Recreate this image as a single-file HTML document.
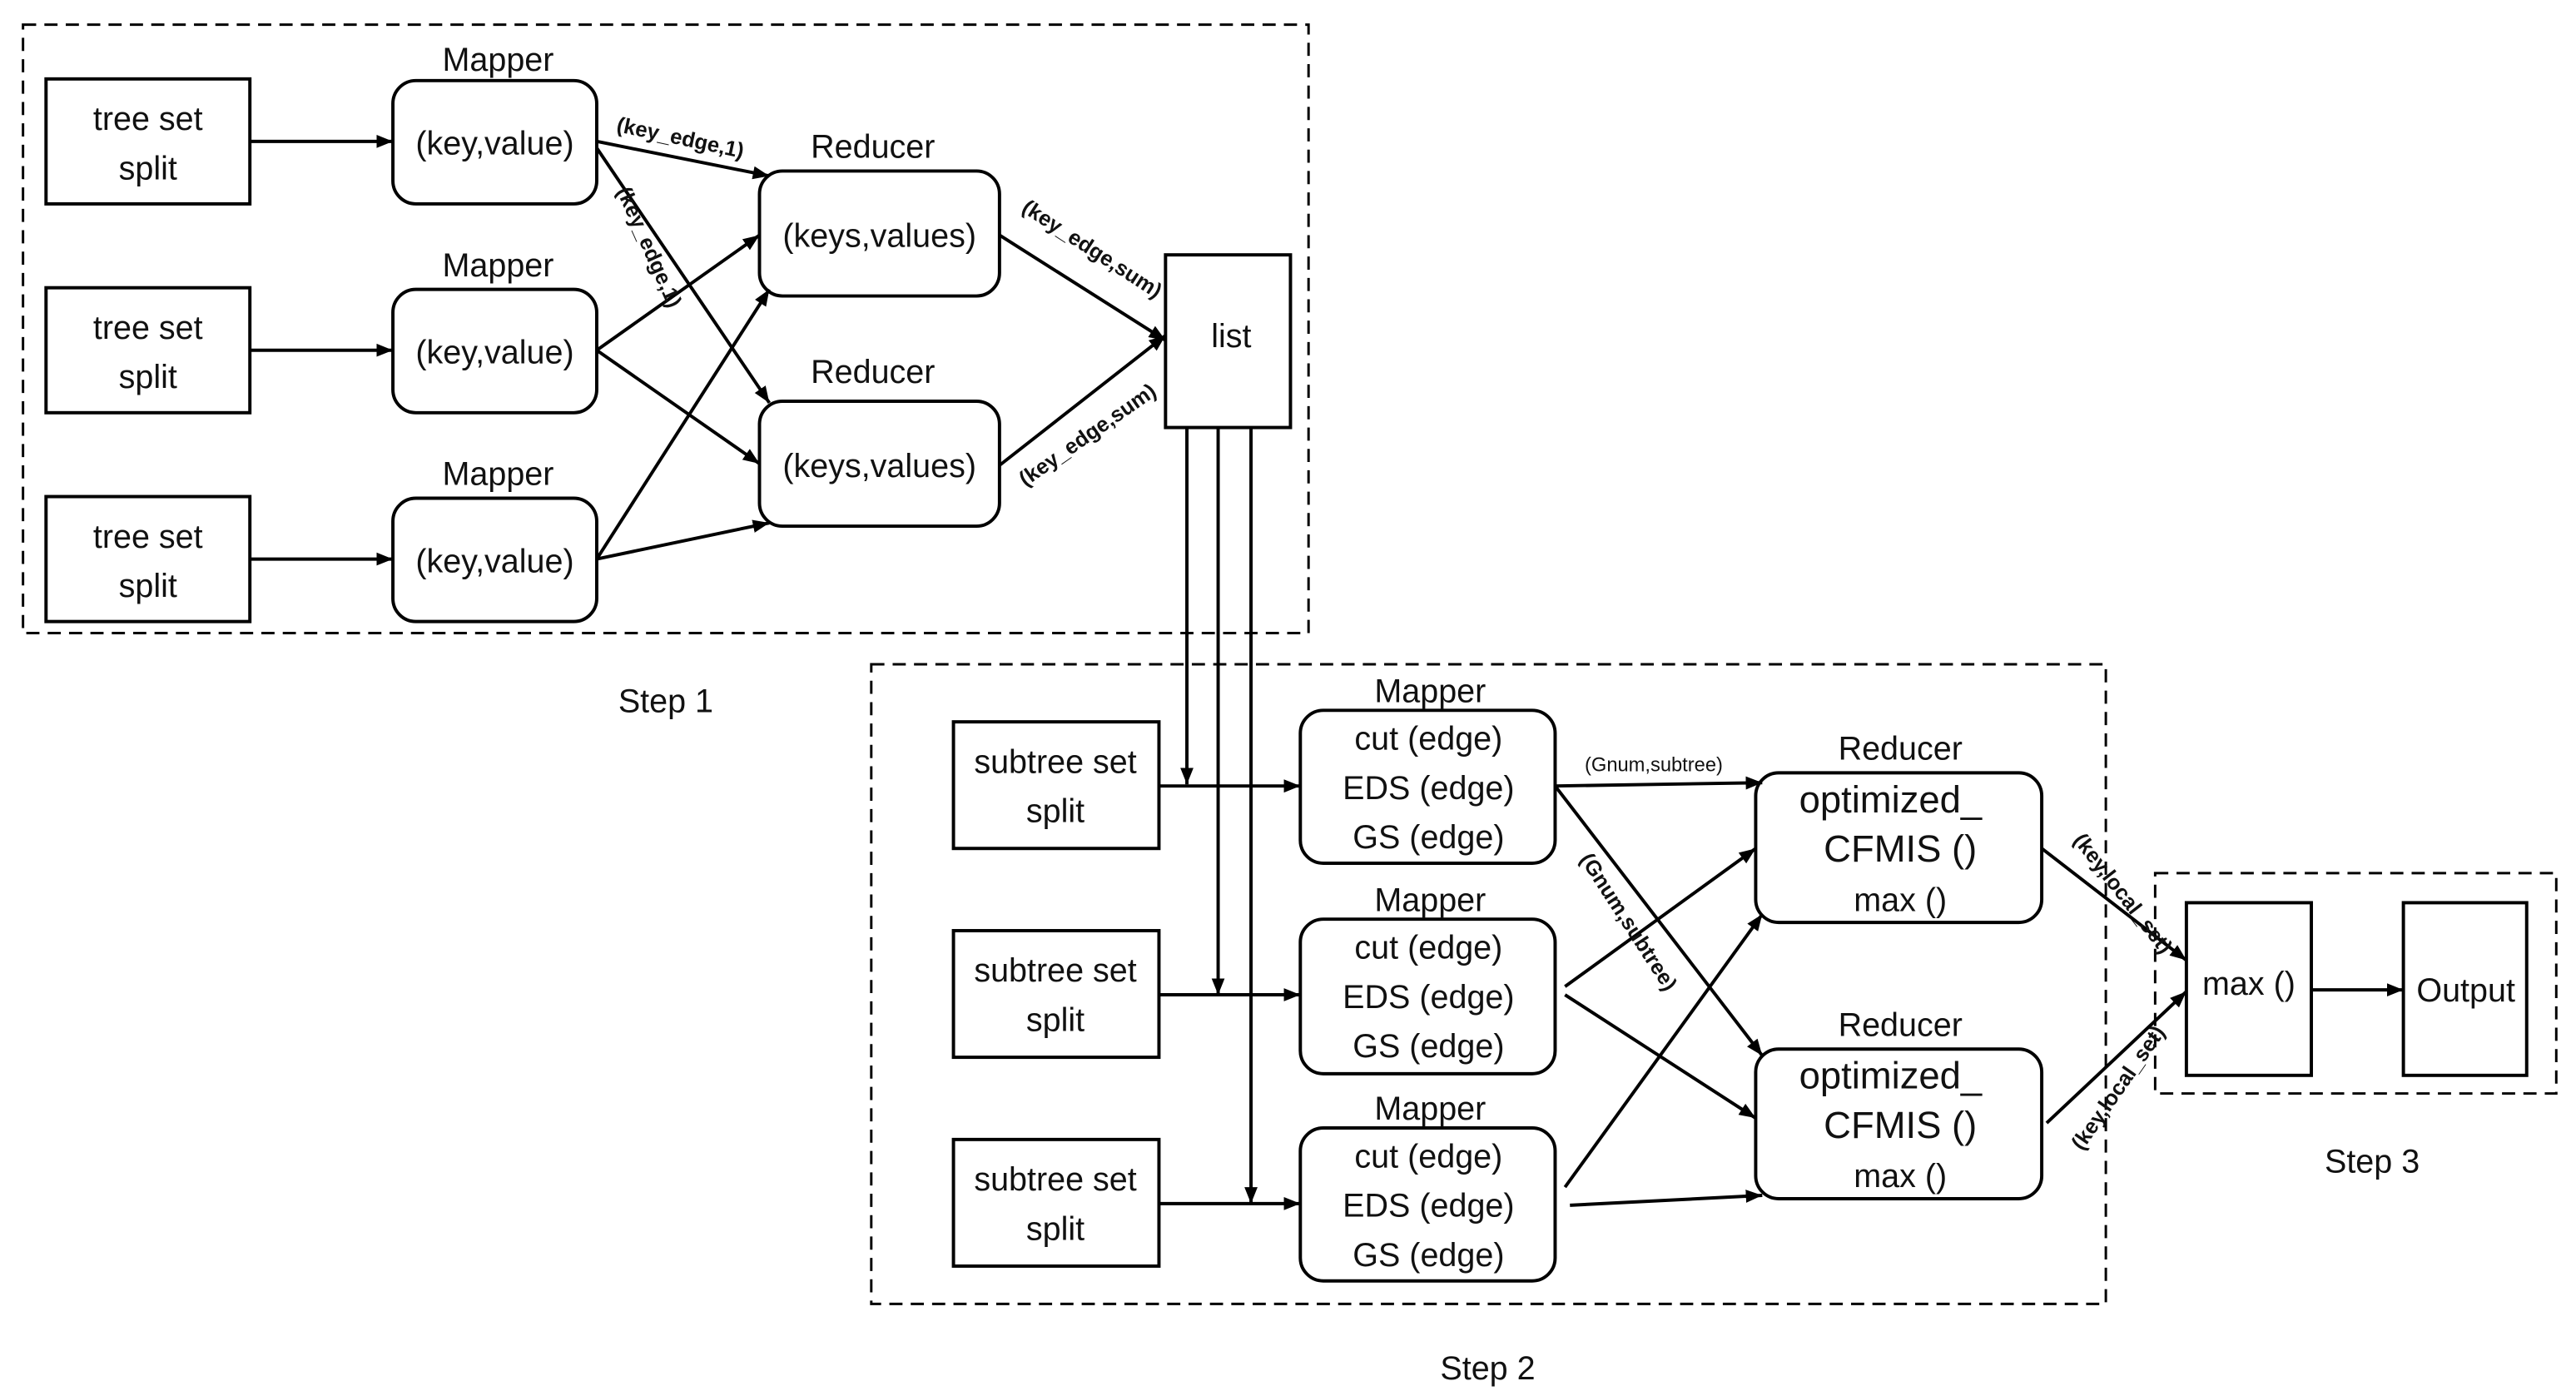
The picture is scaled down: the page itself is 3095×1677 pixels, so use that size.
<!DOCTYPE html>
<html><head><meta charset="utf-8"><style>
html,body{margin:0;padding:0;background:#fff}
svg{display:block}
text{font-family:"Liberation Sans Narrow","Liberation Sans",sans-serif;fill:#111;text-anchor:middle}
.b{font-size:20px}
.s{font-size:13px;font-weight:bold}
</style></head><body>
<svg width="3095" height="1677" viewBox="0 0 1567 849" preserveAspectRatio="none" xmlns="http://www.w3.org/2000/svg">
<defs>
<marker id="m" viewBox="0 0 10 10" refX="10" refY="5" markerWidth="10" markerHeight="10" orient="auto" markerUnits="userSpaceOnUse"><path d="M0,1L10,5L0,9z" fill="#000"/></marker>
</defs>
<g fill="none" stroke="#000" stroke-width="1.5" stroke-dasharray="8,5">
<rect x="14" y="15" width="782" height="370"/>
<rect x="530" y="404" width="751" height="389"/>
<rect x="1311" y="531" width="244" height="134"/>
</g>
<g fill="#fff" stroke="#000" stroke-width="2">
<rect x="28" y="48" width="124" height="76"/>
<rect x="28" y="175" width="124" height="76"/>
<rect x="28" y="302" width="124" height="76"/>
<rect x="239" y="49" width="124" height="75" rx="14"/>
<rect x="239" y="176" width="124" height="75" rx="14"/>
<rect x="239" y="303" width="124" height="75" rx="14"/>
<rect x="462" y="104" width="146" height="76" rx="14"/>
<rect x="462" y="244" width="146" height="76" rx="14"/>
<rect x="709" y="155" width="76" height="105"/>
<rect x="580" y="439" width="125" height="77"/>
<rect x="580" y="566" width="125" height="77"/>
<rect x="580" y="693" width="125" height="77"/>
<rect x="791" y="432" width="155" height="93" rx="14"/>
<rect x="791" y="559" width="155" height="94" rx="14"/>
<rect x="791" y="686" width="155" height="93" rx="14"/>
<rect x="1068" y="470" width="174" height="91" rx="14"/>
<rect x="1068" y="638" width="174" height="91" rx="14"/>
<rect x="1330" y="549" width="76" height="105"/>
<rect x="1462" y="549" width="75" height="105"/>
</g>
<g stroke="#000" stroke-width="2" fill="none" marker-end="url(#m)">
<line x1="152" y1="86" x2="239" y2="86"/>
<line x1="152" y1="213" x2="239" y2="213"/>
<line x1="152" y1="340" x2="239" y2="340"/>
<line x1="363" y1="86" x2="468" y2="107"/>
<line x1="363" y1="90" x2="468" y2="245"/>
<line x1="363" y1="213" x2="462" y2="143"/>
<line x1="363" y1="213" x2="462" y2="282"/>
<line x1="363" y1="340" x2="468" y2="176"/>
<line x1="363" y1="340" x2="468" y2="318"/>
<line x1="608" y1="143" x2="709" y2="207"/>
<line x1="608" y1="283" x2="709" y2="204"/>
<line x1="722" y1="260" x2="722" y2="477"/>
<line x1="741" y1="260" x2="741" y2="605"/>
<line x1="761" y1="260" x2="761" y2="732"/>
<line x1="705" y1="478" x2="791" y2="478"/>
<line x1="705" y1="605" x2="791" y2="605"/>
<line x1="705" y1="732" x2="791" y2="732"/>
<line x1="946" y1="478" x2="1072" y2="476"/>
<line x1="946" y1="478" x2="1072" y2="642"/>
<line x1="952" y1="600" x2="1068" y2="516"/>
<line x1="952" y1="605" x2="1068" y2="680"/>
<line x1="952" y1="722" x2="1072" y2="556"/>
<line x1="955" y1="733" x2="1072" y2="727"/>
<line x1="1242" y1="516" x2="1330" y2="584"/>
<line x1="1245" y1="683" x2="1330" y2="603"/>
<line x1="1406" y1="602" x2="1462" y2="602"/>
</g>
<g class="b">
<text x="90" y="79">tree set</text><text x="90" y="109">split</text>
<text x="90" y="206">tree set</text><text x="90" y="236">split</text>
<text x="90" y="333">tree set</text><text x="90" y="363">split</text>
<text x="303" y="43">Mapper</text><text x="303" y="168">Mapper</text><text x="303" y="295">Mapper</text>
<text x="301" y="94">(key,value)</text><text x="301" y="221">(key,value)</text><text x="301" y="348">(key,value)</text>
<text x="531" y="96">Reducer</text><text x="531" y="233">Reducer</text>
<text x="535" y="150">(keys,values)</text><text x="535" y="290">(keys,values)</text>
<text x="749" y="211">list</text>
<text x="405" y="433">Step 1</text>
<text x="905" y="839">Step 2</text>
<text x="1443" y="713">Step 3</text>
<text x="642" y="470">subtree set</text><text x="642" y="500">split</text>
<text x="642" y="597">subtree set</text><text x="642" y="627">split</text>
<text x="642" y="724">subtree set</text><text x="642" y="754">split</text>
<text x="870" y="427">Mapper</text><text x="870" y="554">Mapper</text><text x="870" y="681">Mapper</text>
<text x="869" y="456">cut (edge)</text><text x="869" y="486">EDS (edge)</text><text x="869" y="516">GS (edge)</text>
<text x="869" y="583">cut (edge)</text><text x="869" y="613">EDS (edge)</text><text x="869" y="643">GS (edge)</text>
<text x="869" y="710">cut (edge)</text><text x="869" y="740">EDS (edge)</text><text x="869" y="770">GS (edge)</text>
<text x="1156" y="462">Reducer</text><text x="1156" y="630">Reducer</text>
<text x="1150" y="494" font-size="23">optimized_</text><text x="1156" y="524" font-size="23">CFMIS ()</text><text x="1156" y="554">max ()</text>
<text x="1150" y="662" font-size="23">optimized_</text><text x="1156" y="692" font-size="23">CFMIS ()</text><text x="1156" y="722">max ()</text>
<text x="1368" y="605">max ()</text>
<text x="1500" y="609">Output</text>
</g>
<g class="s">
<text transform="translate(413,88) rotate(12)">(key_edge,1)</text>
<text transform="translate(391,152) rotate(66)">(key_edge,1)</text>
<text transform="translate(662,155) rotate(33)">(key_edge,sum)</text>
<text transform="translate(664,268) rotate(-35)">(key_edge,sum)</text>
<text transform="translate(987,563) rotate(57)">(Gnum,subtree)</text>
<text transform="translate(1288,546) rotate(52)">(key,local_set)</text>
<text transform="translate(1292,664) rotate(-55)">(key,local_set)</text>
</g>
<text x="1006" y="469" style="font-size:12px">(Gnum,subtree)</text>
</svg>
</body></html>
